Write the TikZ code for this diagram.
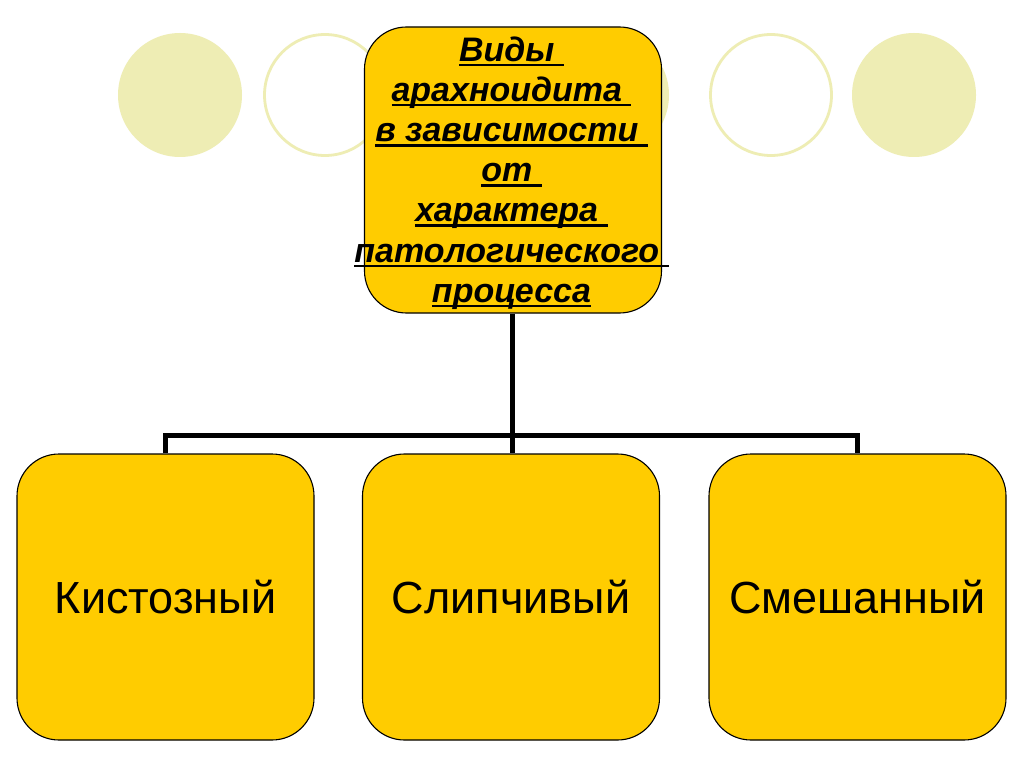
\documentclass[tikz,border=0pt]{standalone}
\usepackage{fontspec}
\setmainfont{Liberation Sans}
\definecolor{boxyellow}{HTML}{FFCC00}
\definecolor{paleolive}{HTML}{EEEDB4}
\newcommand\ulline[1]{\setbox0\hbox{#1}\rlap{\rule[-5pt]{\wd0}{2.6pt}}\box0}
\begin{document}
\begin{tikzpicture}[x=1pt,y=-1pt,
  roundbox/.style={draw=black,line width=1.1pt,fill=boxyellow,rounded corners=42pt,
    minimum width=297pt,minimum height=286pt,inner sep=0pt},
  deco/.style={circle,minimum size=124pt,inner sep=0pt},
  decofill/.style={deco,fill=paleolive},
  decoring/.style={deco,draw=paleolive,line width=2.8pt,minimum size=121pt},
  conn/.style={line width=5pt,line join=miter},
  leaf/.style={font=\fontsize{45}{50}\selectfont}]
\useasboundingbox[fill=white] (0,0) rectangle (1024,767);
% decorative circles
\node[decofill] (c1) at (180,95) {};
\node[decoring] (c2) at (325,95) {};
\node[decofill] (c4) at (607,95) {};
\node[decoring] (c5) at (771,95) {};
\node[decofill] (c6) at (914,95) {};
% boxes
\node[roundbox] (top) at (513,170) {};
\node[roundbox] (k) at (165.5,597) {};
\node[roundbox] (m) at (511,597) {};
\node[roundbox] (s) at (857.5,597) {};
% connectors
\coordinate (hub) at ([xshift=1pt]m.north);
\draw[conn] (hub |- top.south) -- (hub);
\draw[conn] (k.north) -- ++(0,-18) -| (s.north);
% texts
\node[align=center,font=\bfseries\itshape\fontsize{34}{40.2}\selectfont] (toptext) at (511.5,173)
  {\ulline{Виды }\\ \ulline{арахноидита }\\ \ulline{в зависимости }\\ \ulline{от }\\
   \ulline{характера }\\ \ulline{патологического }\\ \ulline{процесса}};
\node[leaf] (kt) at (k.center) {Кистозный};
\node[leaf] (mt) at (m.center) {Слипчивый};
\node[leaf] (st) at (s.center) {Смешанный};
\end{tikzpicture}
\end{document}
